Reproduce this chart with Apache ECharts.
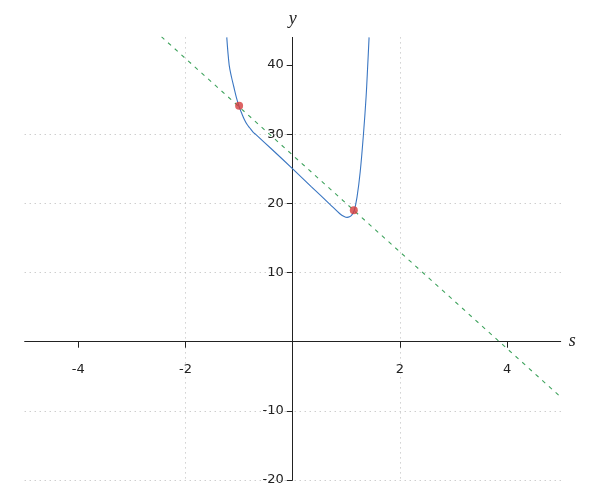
<!DOCTYPE html>
<html>
<head>
<meta charset="utf-8">
<script src="https://cdn.jsdelivr.net/npm/echarts@6/dist/echarts.min.js"></script>
<style>html,body{margin:0;padding:0;background:#fff}#c{width:600px;height:500px}</style>
</head>
<body>
<div id="c"></div>
<script>
var xTicks = [-4, -2, 0, 2, 4];
var xLabels = [-4, -2, 2, 4];
var yTicks = [-20, -10, 0, 10, 20, 30, 40];
var yLabels = [-20, -10, 10, 20, 30, 40];

var curveX = [-1.23, -1.185, -1.14, -1.10, -1.05, -1.0, -0.95, -0.90, -0.85, -0.80, -0.74, -0.68, -0.40, 0, 0.35, 0.69, 0.88, 0.96, 1.015, 1.06, 1.10, 1.146, 1.20, 1.26, 1.32, 1.37, 1.40, 1.425];
var curveY = [44.0, 40.0, 38.2, 36.9, 35.3, 34.0, 33.0, 32.1, 31.4, 30.9, 30.3, 29.9, 27.9, 25.0, 22.4, 19.9, 18.5, 18.1, 17.97, 18.05, 18.3, 18.9, 20.9, 24.6, 30.0, 35.5, 40.0, 44.0];

var lineX = [-2.45, 5];
var lineY = [44.1, -8];

var ptsX = [-1.0, 1.14];
var ptsY = [34.1, 19.0];

function pairs(xs, ys) { return xs.map(function (x, i) { return [x, ys[i]]; }); }

var chart = echarts.init(document.getElementById('c'));
chart.setOption({
  animation: false,
  grid: { left: 24.7, right: 39.3, top: 37.4, bottom: 20, containLabel: false, outerBoundsMode: 'none' },
  xAxis: {
    type: 'value', min: -5, max: 5, position: 'bottom', offset: -138.3,
    name: 's', nameLocation: 'end', nameGap: 8,
    nameTextStyle: { fontFamily: 'Liberation Serif', fontStyle: 'italic', fontSize: 18, color: '#222', verticalAlign: 'middle' },
    axisLine: { onZero: false, lineStyle: { color: '#222', width: 1 } },
    axisTick: { show: true, inside: false, length: 6, customValues: xTicks, lineStyle: { color: '#222' } },
    axisLabel: { customValues: xLabels, margin: 21, fontFamily: 'DejaVu Sans', fontSize: 13, color: '#222' },
    splitLine: { show: true, showMinLine: false, showMaxLine: false, lineStyle: { color: '#b8b8b8', type: [1, 4], width: 1 } }
  },
  yAxis: {
    type: 'value', min: -20, max: 44, position: 'left', offset: -268,
    name: 'y', nameLocation: 'end', nameGap: 9,
    nameTextStyle: { fontFamily: 'Liberation Serif', fontStyle: 'italic', fontSize: 18, color: '#222', align: 'center' },
    axisLine: { onZero: false, lineStyle: { color: '#222', width: 1 } },
    axisTick: { show: true, inside: false, length: 6, customValues: yTicks, lineStyle: { color: '#222' } },
    axisLabel: { customValues: yLabels, margin: 9, fontFamily: 'DejaVu Sans', fontSize: 13, color: '#222' },
    splitLine: { show: true, showMinLine: true, showMaxLine: false, lineStyle: { color: '#b8b8b8', type: [1, 4], width: 1 } }
  },
  series: [
    {
      type: 'line', data: pairs(lineX, lineY), showSymbol: false, silent: true,
      lineStyle: { color: '#3fa35d', width: 1.1, type: [4, 5] }, z: 2
    },
    {
      type: 'line', data: pairs(curveX, curveY), showSymbol: false, smooth: 0.35, silent: true,
      lineStyle: { color: '#3a76c2', width: 1.1 }, z: 3
    },
    {
      type: 'scatter', data: pairs(ptsX, ptsY), symbolSize: 8, silent: true,
      itemStyle: { color: '#d43c3c' }, z: 4
    }
  ]
});
</script>
</body>
</html>
